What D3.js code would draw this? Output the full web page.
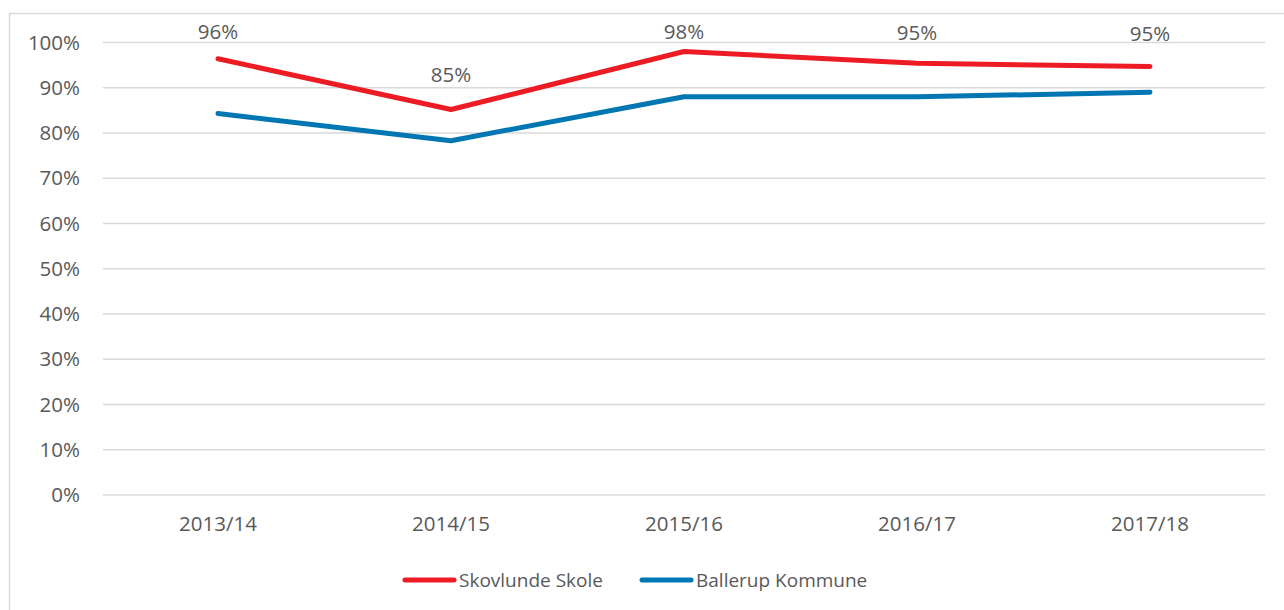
<!DOCTYPE html>
<html>
<head>
<meta charset="utf-8">
<script src="https://cdn.jsdelivr.net/npm/d3@7"></script>
<style>
  body { margin: 0; background: #fff; }
  text { font-family: "Open Sans", sans-serif; fill: #595959; }
</style>
</head>
<body>
<script>
// data
const years = ["2013/14", "2014/15", "2015/16", "2016/17", "2017/18"];
const skovlunde = [0.964, 0.852, 0.980, 0.954, 0.947];
const ballerup = [0.843, 0.783, 0.880, 0.880, 0.890];
const yTicks = [0, 0.1, 0.2, 0.3, 0.4, 0.5, 0.6, 0.7, 0.8, 0.9, 1];
const seriesNames = ["Skovlunde Skole", "Ballerup Kommune"];
const seriesColors = ["#ED1C24", "#0077B2"];

// label offsets above the red points (hand placed in the original)
const labelDy = [-20, -27, -13, -23, -25];

const width = 1284, height = 610;

const svg = d3.select("body")
  .append("svg")
  .attr("width", width)
  .attr("height", height);

// chart frame
svg.append("rect")
  .attr("x", 9.5)
  .attr("y", 13.5)
  .attr("width", 1290)
  .attr("height", 620)
  .style("fill", "none")
  .style("stroke", "#D9D9D9")
  .style("stroke-width", 1.5);

const x = d3.scaleBand()
  .domain(years)
  .range([101.5, 1266.5]);

const y = d3.scaleLinear()
  .domain([0, 1])
  .range([495, 42.5]);

// gridlines
svg.append("g")
  .selectAll("line")
  .data(yTicks)
  .join("line")
  .attr("x1", 103)
  .attr("x2", 1265)
  .attr("y1", d => y(d))
  .attr("y2", d => y(d))
  .style("stroke", "#D9D9D9")
  .style("stroke-width", 1.5);

// y axis labels
const yAxis = svg.append("g")
  .attr("transform", "translate(80,0)")
  .call(d3.axisLeft(y).tickValues(yTicks).tickFormat(d3.format(".0%")).tickSize(0).tickPadding(0));
yAxis.select(".domain").remove();
yAxis.selectAll("text")
  .style("font-family", "Open Sans")
  .style("font-size", "20.5px")
  .style("fill", "#595959");

// x axis labels
const xAxis = svg.append("g")
  .attr("transform", "translate(0,516)")
  .call(d3.axisBottom(x).tickSize(0).tickPadding(0));
xAxis.select(".domain").remove();
xAxis.selectAll("text")
  .style("font-family", "Open Sans")
  .style("font-size", "20.5px")
  .style("fill", "#595959");

const line = d3.line()
  .x((d, i) => x(years[i]) + x.bandwidth() / 2)
  .y(d => y(d));

[ballerup, skovlunde].forEach((vals, k) => {
  svg.append("path")
    .datum(vals)
    .attr("d", line)
    .style("fill", "none")
    .style("stroke", k === 0 ? seriesColors[1] : seriesColors[0])
    .style("stroke-width", 5)
    .style("stroke-linecap", "round")
    .style("stroke-linejoin", "round");
});

// data labels for Skovlunde Skole
svg.append("g")
  .selectAll("text")
  .data(skovlunde)
  .join("text")
  .attr("x", (d, i) => x(years[i]) + x.bandwidth() / 2)
  .attr("y", (d, i) => y(d) + labelDy[i])
  .attr("text-anchor", "middle")
  .style("font-size", "20.5px")
  .text(d => d3.format(".0%")(d));

// legend
const legendX = [403, 640];
const legend = svg.append("g");
seriesNames.forEach((name, i) => {
  legend.append("line")
    .attr("x1", legendX[i] + 2)
    .attr("x2", legendX[i] + 51)
    .attr("y1", 580)
    .attr("y2", 580)
    .style("stroke", seriesColors[i])
    .style("stroke-width", 5)
    .style("stroke-linecap", "round");
  legend.append("text")
    .attr("x", legendX[i] + 56)
    .attr("y", 580)
    .attr("dy", "0.35em")
    .style("font-size", "19px")
    .text(name);
});
</script>
</body>
</html>
